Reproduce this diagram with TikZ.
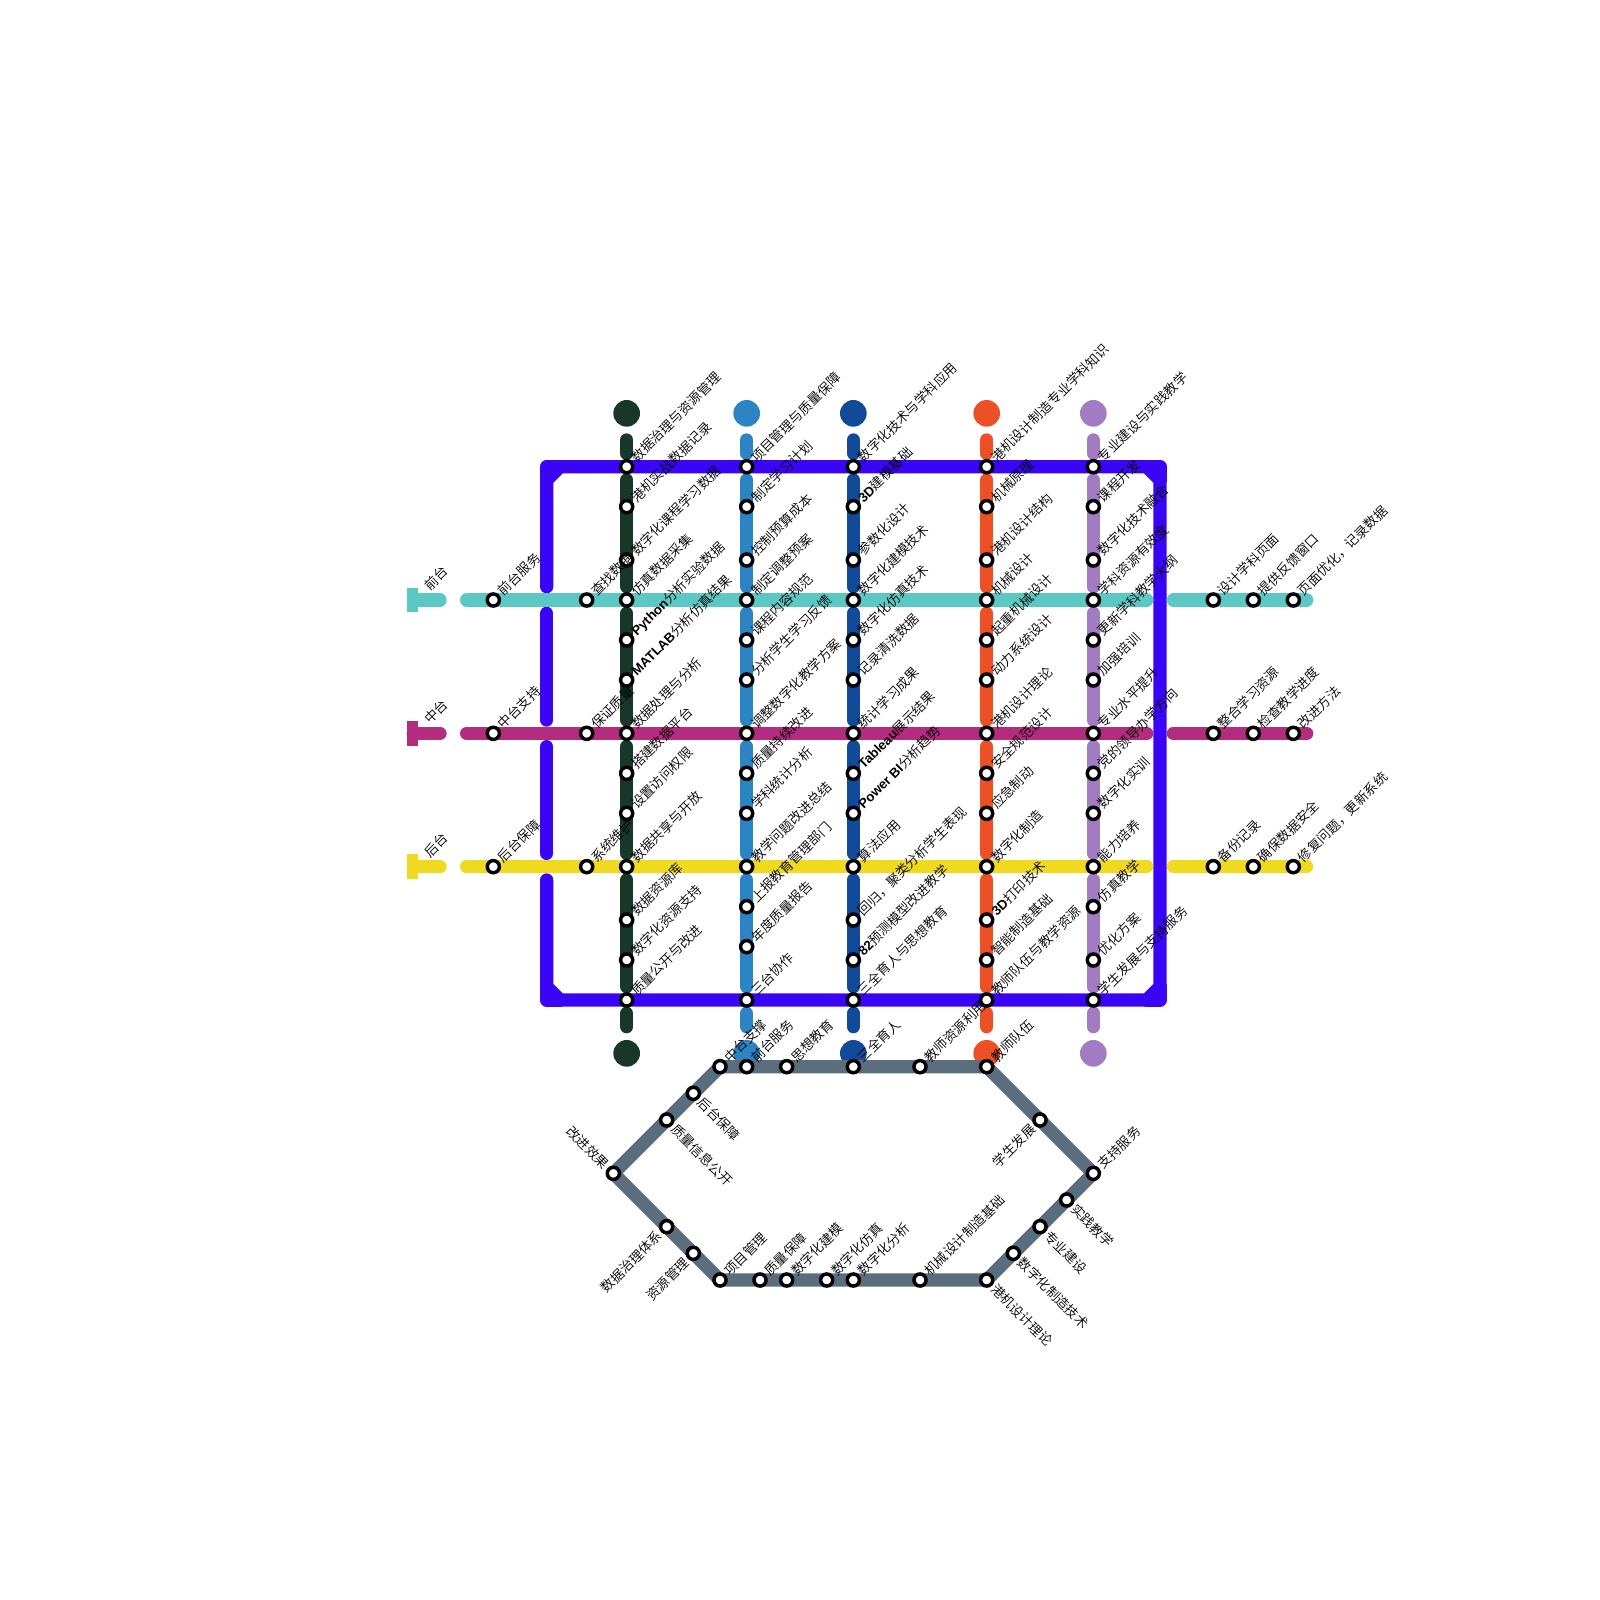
\documentclass[tikz,border=0pt]{standalone}
\usepackage{fontspec}
\setmainfont{Noto Sans CJK SC DemiLight}
\newfontfamily\latfont{Liberation Sans}
\newcommand\bl[1]{{\latfont\bfseries #1}}
\definecolor{mgreen}{HTML}{173828}
\definecolor{mblue}{HTML}{2C84C4}
\definecolor{mdeep}{HTML}{104A98}
\definecolor{morange}{HTML}{EC5024}
\definecolor{mpurple}{HTML}{A17CC2}
\definecolor{mcyan}{HTML}{5CC8C4}
\definecolor{mmagenta}{HTML}{B32C7E}
\definecolor{myellow}{HTML}{F0DA1F}
\definecolor{mframe}{HTML}{3A04F6}
\definecolor{mgray}{HTML}{5B6E7E}
\tikzset{
  metro/.style={line width=10pt,line cap=round,line join=round},
  stn/.style={circle,draw=black,fill=white,line width=2.6pt,minimum size=9.1pt,inner sep=0pt},
  txt/.style={inner sep=0pt,text height=8.6pt,text depth=1.1pt,font=\fontsize{10}{12}\selectfont,text=black},
  labne/.style={txt,rotate=45,anchor=west},
  labse/.style={txt,rotate=-45,anchor=west},
  labsw/.style={txt,rotate=45,anchor=east},
  labnw/.style={txt,rotate=-45,anchor=east},
  term/.style={circle,minimum size=20pt,inner sep=0pt},
  teebar/.style={rectangle,minimum width=8.75pt,minimum height=18.5pt,inner sep=0pt}
}
\newcommand\stne[4]{\node[stn] (#1) at (#2,#3) {}; \node[labne] (#1-l) at ([shift={(.504,-.504)}]#1.center) {#4};}
\newcommand\stse[4]{\node[stn] (#1) at (#2,#3) {}; \node[labse] (#1-l) at ([shift={(.504,.504)}]#1.center) {#4};}
\newcommand\stsw[4]{\node[stn] (#1) at (#2,#3) {}; \node[labsw] (#1-l) at ([shift={(-.504,.504)}]#1.center) {#4};}
\newcommand\stnw[4]{\node[stn] (#1) at (#2,#3) {}; \node[labnw] (#1-l) at ([shift={(-.504,-.504)}]#1.center) {#4};}
\begin{document}
\begin{tikzpicture}[x=10pt,y=-10pt]
\useasboundingbox (0,0) rectangle (120,120);
% vertical lines
\foreach \n/\x/\c in {g/47/mgreen,b/56/mblue,d/64/mdeep,o/74/morange,p/82/mpurple}{
  \node[term,fill=\c] (\n top) at (\x,31) {};
  \node[term,fill=\c] (\n bot) at (\x,79) {};
  \foreach \a/\b in {33/34,36/44,46/54,56/64,66/74,76/77}{
    \coordinate (\n\a) at (\x,\a);
    \coordinate (\n\b) at (\x,\b);
    \draw[metro,draw=\c] (\n\a) -- (\n\b);
  }
}
% frame
\coordinate (fa) at (41,44); \coordinate (fb) at (41,36); \coordinate (fc) at (42,35);
\coordinate (fd) at (86,35); \coordinate (fe) at (87,36); \coordinate (ff) at (87,74);
\coordinate (fg) at (86,75); \coordinate (fh) at (42,75); \coordinate (fi) at (41,74);
\coordinate (fj) at (41,66); \coordinate (fk) at (41,46); \coordinate (fl) at (41,54);
\coordinate (fm) at (41,56); \coordinate (fn) at (41,64);
\coordinate (c1) at (41,35); \coordinate (c2) at (87,35); \coordinate (c3) at (87,75); \coordinate (c4) at (41,75);
\draw[metro,draw=mframe] (fa)--(fb)--(fc)--(fd)--(fe)--(ff)--(fg)--(fh)--(fi)--(fj);
\draw[metro,draw=mframe] (fk)--(fl);
\draw[metro,draw=mframe] (fm)--(fn);
\draw[metro,draw=mframe] (fb)--(c1)--(fc);
\draw[metro,draw=mframe] (fd)--(c2)--(fe);
\draw[metro,draw=mframe] (ff)--(c3)--(fg);
\draw[metro,draw=mframe] (fh)--(c4)--(fi);
% horizontal lines
\foreach \n/\y/\c in {h/45/mcyan,m/55/mmagenta,y/65/myellow}{
  \node[teebar,fill=\c] (\n tee) at (30.94,\y) {};
  \foreach \a/\b in {31/33,35/86,88/98}{
    \coordinate (\n\a) at (\a,\y);
    \coordinate (\n\b) at (\b,\y);
    \draw[metro,draw=\c] (\n\a) -- (\n\b);
  }
}
% grey loop
\coordinate (qa) at (54,80); \coordinate (qb) at (74,80); \coordinate (qc) at (82,88);
\coordinate (qd) at (74,96); \coordinate (qe) at (54,96); \coordinate (qf) at (46,88);
\draw[metro,draw=mgray] (qa)--(qb)--(qc)--(qd)--(qe)--(qf)--cycle;
% tee labels
\node[labne] (tq) at (32,44.1) {前台};
\node[labne] (tz) at (32,54.1) {中台};
\node[labne] (th) at (32,64.1) {后台};
% stations on the vertical lines
\foreach \y/\t in {35/数据治理与资源管理,38/港机实战数据记录,42/数字化课程学习数据,45/仿真数据采集,48/\bl{Python}分析实验数据,51/\bl{MATLAB}分析仿真结果,55/数据处理与分析,58/搭建数据平台,61/设置访问权限,65/数据共享与开放,69/数据资源库,72/数字化资源支持,75/质量公开与改进}{\stne{sg\y}{47}{\y}{\t}}
\foreach \y/\t in {35/项目管理与质量保障,38/制定学习计划,42/控制预算成本,45/制定调整预案,48/课程内容规范,51/分析学生学习反馈,55/调整数字化教学方案,58/质量持续改进,61/学科统计分析,65/教学问题改进总结,68/上报教育管理部门,71/年度质量报告,75/三台协作}{\stne{sb\y}{56}{\y}{\t}}
\foreach \y/\t in {35/数字化技术与学科应用,38/\bl{3D}建模基础,42/参数化设计,45/数字化建模技术,48/数字化仿真技术,51/记录清洗数据,55/统计学习成果,58/\bl{Tableau}展示结果,61/\bl{Power BI}分析趋势,65/算法应用,69/回归，聚类分析学生表现,72/\bl{82}预测模型改进教学,75/三全育人与思想教育}{\stne{sd\y}{64}{\y}{\t}}
\foreach \y/\t in {35/港机设计制造专业学科知识,38/机械原理,42/港机设计结构,45/机械设计,48/起重机械设计,51/动力系统设计,55/港机设计理论,58/安全规范设计,61/应急制动,65/数字化制造,69/\bl{3D}打印技术,72/智能制造基础,75/教师队伍与教学资源}{\stne{so\y}{74}{\y}{\t}}
\foreach \y/\t in {35/专业建设与实践教学,38/课程开发,42/数字化技术融合,45/学科资源有效度,48/更新学科教学大纲,51/加强培训,55/专业水平提升,58/党的领导办学方向,61/数字化实训,65/能力培养,68/仿真教学,72/优化方案,75/学生发展与支持服务}{\stne{sp\y}{82}{\y}{\t}}
% stations on the horizontal lines
\foreach \x/\t in {37/前台服务,44/查找数据,91/设计学科页面,94/提供反馈窗口,97/页面优化，记录数据}{\stne{sh\x}{\x}{45}{\t}}
\foreach \x/\t in {37/中台支持,44/保证质量,91/整合学习资源,94/检查教学进度,97/改进方法}{\stne{sm\x}{\x}{55}{\t}}
\foreach \x/\t in {37/后台保障,44/系统维护,91/备份记录,94/确保数据安全,97/修复问题，更新系统}{\stne{sy\x}{\x}{65}{\t}}
% stations on the grey loop
\foreach \x/\t in {54/中台支撑,56/前台服务,59/思想教育,64/三全育人,69/教师资源利用,74/教师队伍}{\stne{qt\x}{\x}{80}{\t}}
\foreach \x/\t in {54/项目管理,57/质量保障,59/数字化建模,62/数字化仿真,64/数字化分析,69/机械设计制造基础}{\stne{qu\x}{\x}{96}{\t}}
\stne{qv1}{82}{88}{支持服务}
\stsw{qv2}{78}{84}{学生发展}
\stse{qv3}{80}{90}{实践教学}
\stse{qv4}{78}{92}{专业建设}
\stse{qv5}{76}{94}{数字化制造技术}
\stse{qv6}{74}{96}{港机设计理论}
\stsw{qv7}{52}{94}{资源管理}
\stsw{qv8}{50}{92}{数据治理体系}
\stnw{qv9}{46}{88}{改进效果}
\stse{qv10}{50}{84}{质量信息公开}
\stse{qv11}{52}{82}{后台保障}
\end{tikzpicture}
\end{document}
